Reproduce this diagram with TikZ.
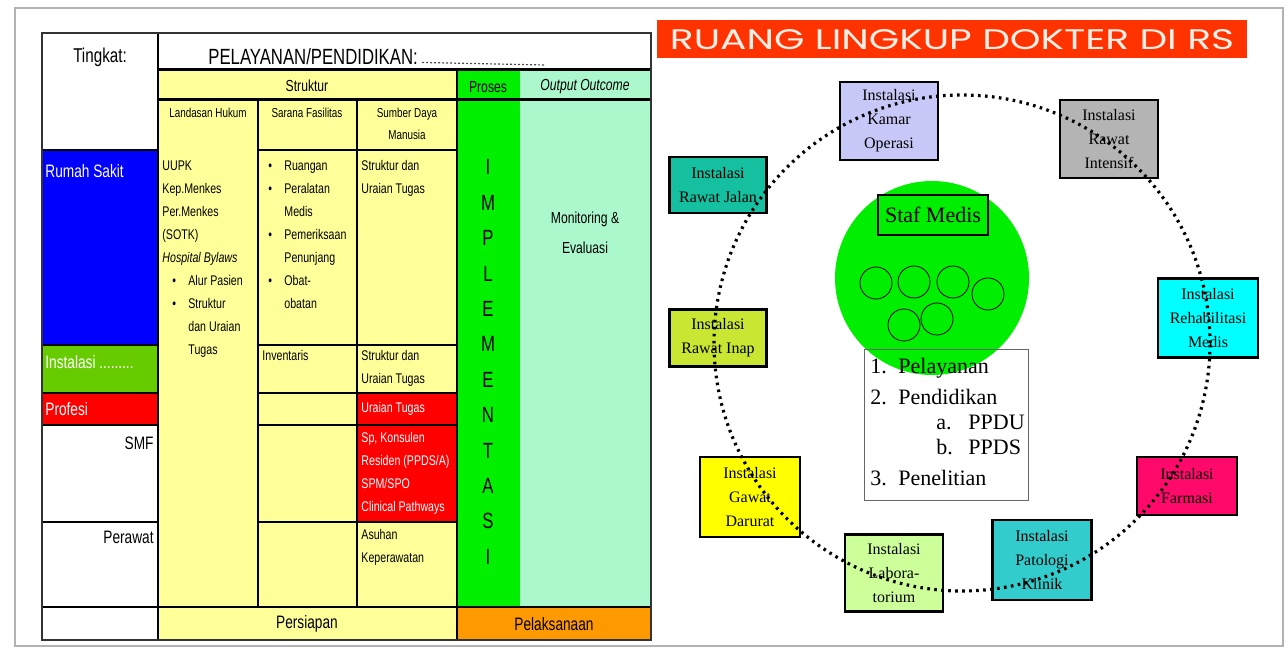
\documentclass[tikz,border=0pt]{standalone}
\usepackage{fontspec}
\setmainfont{Liberation Serif}
\newfontfamily\tabfont[FakeStretch=0.76]{Liberation Sans}
\newfontfamily\headfont{Poppins}
\usepackage{graphicx}
\definecolor{cellyellow}{HTML}{FFFF99}
\definecolor{procgreen}{HTML}{00F000}
\definecolor{outgreen}{HTML}{AAF8CC}
\definecolor{instgreen}{HTML}{66CC00}
\definecolor{rsblue}{HTML}{0000FF}
\definecolor{hotred}{HTML}{FF0000}
\definecolor{pelorange}{HTML}{FF9900}
\definecolor{bannerred}{HTML}{FF3300}
\definecolor{bannertext}{HTML}{FFEEE6}
\definecolor{cLav}{HTML}{C8C8F8}
\definecolor{cGrey}{HTML}{B4B4B4}
\definecolor{cTeal}{HTML}{14C0A0}
\definecolor{cLime}{HTML}{C8E632}
\definecolor{cCyan}{HTML}{00FFFF}
\definecolor{cPink}{HTML}{FF0A6A}
\definecolor{cAqua}{HTML}{33CCCC}
\definecolor{cPale}{HTML}{CCFF99}
\definecolor{cYel}{HTML}{FFFF00}
\definecolor{stafgreen}{HTML}{00EE00}
\newcommand{\tbul}{\makebox[8pt][l]{\textbullet}}
\newcommand{\tind}{\hspace*{8pt}}
\begin{document}
\begin{tikzpicture}[x=0.5pt,y=-0.5pt,
  grid/.style={draw=black, line width=0.9pt},
  thickgrid/.style={draw=black, line width=1.5pt},
  tx/.style={font=\tabfont\fontsize{7}{11.5}\selectfont, align=left, inner sep=0pt, anchor=north west},
  hd/.style={font=\tabfont\fontsize{8}{11}\selectfont, inner sep=0pt, align=center},
  unit/.style={draw=black, line width=1.2pt, align=center, inner sep=1pt,
    font=\fontsize{8}{12}\selectfont},
  member/.style={draw=black, line width=0.4pt, circle, minimum size=16pt, inner sep=0pt},
  ring/.style={draw=black, line width=1.6pt, dash pattern=on 1.3pt off 2.2pt}
]
\useasboundingbox (0,0) rectangle (1288,651);
\fill[white] (0,0) rectangle (1288,651);
\draw[gray!60, line width=0.6pt] (15,8) rectangle (1283,646);

% ---------- table: background fills ----------
\fill[white] (42,33) rectangle (651,640);
\fill[cellyellow] (158,70) rectangle (457,607);
\fill[cellyellow] (158,607) rectangle (457,640);
\fill[procgreen] (457,70) rectangle (520,607);
\fill[outgreen] (520,70) rectangle (651,607);
\fill[pelorange] (457,607) rectangle (651,640);
\fill[rsblue] (42,150) rectangle (158,345);
\fill[instgreen] (42,345) rectangle (158,393);
\fill[hotred] (42,393) rectangle (158,425);
\fill[hotred] (357,393) rectangle (457,522);

% ---------- table: rules ----------
\draw[thickgrid] (158,70) -- (651,70);
\draw[thickgrid] (158,100) -- (651,100);
\draw[grid] (158,33) -- (158,640);
\draw[grid] (457,70) -- (457,640);
\draw[grid] (258,100) -- (258,607);
\draw[grid] (357,100) -- (357,607);
\draw[grid] (258,150) -- (457,150);
\draw[grid] (258,345) -- (457,345);
\draw[grid] (258,393) -- (457,393);
\draw[grid] (258,425) -- (457,425);
\draw[grid] (258,522) -- (457,522);
\draw[grid] (42,150) -- (158,150);
\draw[grid] (42,345) -- (158,345);
\draw[grid] (42,393) -- (158,393);
\draw[grid] (42,425) -- (158,425);
\draw[grid] (42,522) -- (158,522);
\draw[grid] (42,607) -- (651,607);
\draw[draw=black!80, line width=1.2pt] (42,33) rectangle (651,640);

% ---------- table: headings ----------
\node[hd, font=\tabfont\fontsize{10}{12}\selectfont] (tingkat) at (100,57) {Tingkat:};
\node[hd, font=\tabfont\fontsize{11}{12}\selectfont, anchor=west] (pelayanan) at (208,57) {PELAYANAN/PENDIDIKAN:};
\coordinate (blankend) at (545,65);
\draw[black!70, line width=0.6pt, dash pattern=on 1pt off 1pt] (pelayanan.south east) ++(4,-3) -- (blankend);
\node[hd] (struktur) at (307,86) {Struktur};
\node[hd] (proses) at (488,87) {Proses};
\node[hd, font=\tabfont\itshape\fontsize{8}{11}\selectfont] (output) at (585,87) {Output Outcome};
\node[hd, font=\tabfont\fontsize{6.5}{11}\selectfont] (landasan) at (208,113) {Landasan Hukum};
\node[hd, font=\tabfont\fontsize{6.5}{11}\selectfont] (sarana) at (307,113) {Sarana Fasilitas};
\node[hd, font=\tabfont\fontsize{6.5}{11}\selectfont] (sdm) at (407,124) {Sumber Daya\\Manusia};

% ---------- table: level column ----------
\node[tx, text=white, font=\tabfont\fontsize{9}{11}\selectfont] (rs) at (45,164) {Rumah Sakit};
\node[tx, text=white, font=\tabfont\fontsize{9}{11}\selectfont] (inst) at (45,355) {Instalasi .........};
\node[tx, text=white, font=\tabfont\fontsize{9}{11}\selectfont] (profesi) at (45,402) {Profesi};
\node[tx, anchor=north east, font=\tabfont\fontsize{9}{11}\selectfont] (smf) at (154,437) {SMF};
\node[tx, anchor=north east, font=\tabfont\fontsize{9}{11}\selectfont] (perawat) at (154,531) {Perawat};

% ---------- table: body cells ----------
\node[tx] (hukum) at (162,160) {UUPK\\Kep.Menkes\\Per.Menkes\\(SOTK)\\\textit{Hospital Bylaws}\\
  \hspace*{5pt}\tbul Alur Pasien\\\hspace*{5pt}\tbul Struktur\\\hspace*{5pt}\tind dan Uraian\\\hspace*{5pt}\tind Tugas};
\node[tx] (fasil) at (268,160) {\tbul Ruangan\\\tbul Peralatan\\\tind Medis\\\tbul Pemeriksaan\\\tind Penunjang\\\tbul Obat-\\\tind obatan};
\node[tx] (inventaris) at (262,350) {Inventaris};
\node[tx] (sdm1) at (361,160) {Struktur dan\\Uraian Tugas};
\node[tx] (sdm2) at (361,350) {Struktur dan\\Uraian Tugas};
\node[tx, text=white] (sdm3) at (361,402) {Uraian Tugas};
\node[tx, text=white] (sdm4) at (361,432) {Sp, Konsulen\\Residen (PPDS/A)\\SPM/SPO\\Clinical Pathways};
\node[tx] (sdm5) at (361,529) {Asuhan\\Keperawatan};
\node[hd, font=\tabfont\fontsize{11}{17.7}\selectfont] (impl) at (488,362) {I\\M\\P\\L\\E\\M\\E\\N\\T\\A\\S\\I};
\node[hd, font=\tabfont\fontsize{8}{15}\selectfont] (monev) at (585,233) {Monitoring \&\\Evaluasi};
\node[hd, font=\tabfont\fontsize{9}{11}\selectfont] (persiapan) at (307,624) {Persiapan};
\node[hd, font=\tabfont\fontsize{9}{11}\selectfont] (pelaksanaan) at (554,624) {Pelaksanaan};

% ---------- right: title banner ----------
\fill[bannerred] (657,20) rectangle (1247,58);
\node[inner sep=0pt, text=bannertext] (title) at (952,40)
  {\resizebox{282pt}{10pt}{\headfont RUANG LINGKUP DOKTER DI RS}};

% ---------- right: installations ----------
\node[unit, fill=cLav, minimum width=49pt, minimum height=39pt] (ok) at (889,121) {Instalasi\\Kamar\\Operasi};
\node[unit, fill=cGrey, minimum width=49pt, minimum height=39pt] (icu) at (1109,139) {Instalasi\\Rawat\\Intensif};
\node[unit, fill=cTeal, minimum width=48.5pt, minimum height=28pt] (rj) at (718,185) {Instalasi\\Rawat Jalan};
\node[unit, fill=cLime, minimum width=48.5pt, minimum height=28.5pt] (ri) at (718,338) {Instalasi\\Rawat Inap};
\node[unit, fill=cCyan, minimum width=50pt, minimum height=39.5pt] (rm) at (1208,318) {Instalasi\\Rehabilitasi\\Medis};
\node[unit, fill=cPink, minimum width=50pt, minimum height=29pt] (far) at (1187,486) {Instalasi\\Farmasi};
\node[unit, fill=cAqua, minimum width=49.5pt, minimum height=40pt] (pk) at (1042,560) {Instalasi\\Patologi\\Klinik};
\node[unit, fill=cPale, minimum width=49pt, minimum height=38.5pt] (lab) at (894,573) {Instalasi\\Labora-\\torium};
\node[unit, fill=cYel, minimum width=50pt, minimum height=40pt] (igd) at (750,497) {Instalasi\\Gawat\\Darurat};

% ---------- right: medical staff ----------
\coordinate (core) at (932,278);
\fill[stafgreen] (core) circle [radius=48.5pt];
\node[draw=black, line width=0.8pt, fill=stafgreen, minimum width=55pt, minimum height=20pt,
  font=\fontsize{11}{12}\selectfont, inner sep=0pt] (staf) at (933,215) {Staf Medis};
\foreach \n/\px/\py in {m1/876/283, m2/914/282, m3/953/282, m4/988/294, m5/904/325, m6/937/319}
  \node[member] (\n) at (\px,\py) {};
\node[draw=black!60, line width=0.5pt, minimum width=82pt, minimum height=75pt, inner sep=0pt] (tasks) at (946,425) {};
\node[anchor=north west, align=left, inner sep=0pt, font=\fontsize{11}{12.5}\selectfont] (tasklist) at (870,358)
  {\makebox[14pt][l]{1.}Pelayanan\\[3pt]
   \makebox[14pt][l]{2.}Pendidikan\\
   \hspace*{33pt}\makebox[16pt][l]{a.}PPDU\\
   \hspace*{33pt}\makebox[16pt][l]{b.}PPDS\\[3pt]
   \makebox[14pt][l]{3.}Penelitian};

% ---------- right: ring linking the installations ----------
\coordinate (hub) at (962,343);
\draw[ring] (hub) circle [radius=124pt];
\end{tikzpicture}
\end{document}
